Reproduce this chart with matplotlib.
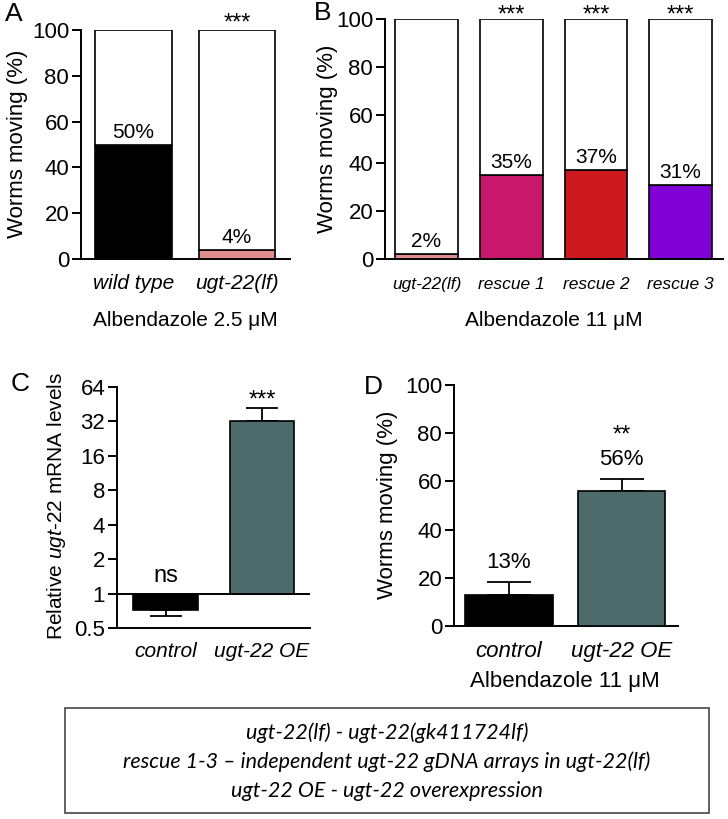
import matplotlib
matplotlib.use('Agg')
import matplotlib.pyplot as plt
import numpy as np

plt.rcParams['font.family'] = ['Liberation Sans', 'DejaVu Sans']
plt.rcParams['mathtext.fontset'] = 'custom'
plt.rcParams['mathtext.rm'] = 'Liberation Sans'
plt.rcParams['mathtext.it'] = 'Liberation Sans:italic'

# ---- data ----
a_labels = ['wild type', 'ugt-22(lf)']
a_values = [50, 4]
a_colors = ['#000000', '#e08c8c']
a_stars = ['', '***']

b_labels = ['ugt-22(lf)', 'rescue 1', 'rescue 2', 'rescue 3']
b_values = [2, 35, 37, 31]
b_colors = ['#e08c8c', '#c8186c', '#cc1a1e', '#8200d8']
b_stars = ['', '***', '***', '***']

c_labels = ['control', 'ugt-22 OE']
c_values = [0.72, 32]
c_err_low = [0.08, 0]
c_err_high = [0, 9.6]
c_marks = ['ns', '***']

d_labels = ['control', 'ugt-22 OE']
d_values = [13, 56]
d_err = [5.3, 5]
d_stars = ['', '**']

teal = '#4d6b6a'
note_lines = ['ugt-22(lf) - ugt-22(gk411724lf)',
              'rescue 1-3 \u2013 independent ugt-22 gDNA arrays in ugt-22(lf)',
              'ugt-22 OE - ugt-22 overexpression']

W, H = 728, 819
fig = plt.figure(figsize=(W / 100, H / 100), dpi=100)


def ax_px(l, t, r, b):
    return fig.add_axes([l / W, 1 - b / H, (r - l) / W, (b - t) / H])


def ptext(x, y, s, **kw):
    kw.setdefault('ha', 'center')
    kw.setdefault('va', 'center')
    return fig.text(x / W, 1 - y / H, s, **kw)


def style_axes(ax):
    for s in ['top', 'right']:
        ax.spines[s].set_visible(False)
    for s in ['left', 'bottom']:
        ax.spines[s].set_linewidth(1.4)
    ax.tick_params(axis='y', length=6.5, width=1.4, labelsize=16, pad=2)
    ax.tick_params(axis='x', length=0)


def pct_axes(ax, labels, values, colors, stars, lab_size, lab_pad, star_off):
    x = np.arange(len(values))
    vals = np.array(values)
    ax.bar(x, vals, width=0.74, color=colors, edgecolor='black', linewidth=1.2)
    ax.bar(x, 100 - vals, bottom=vals, width=0.74, color='white',
           edgecolor='black', linewidth=1.2)
    ax.set_ylim(0, 100)
    ax.set_yticks([0, 20, 40, 60, 80, 100])
    ax.set_xticks(x, labels, style='italic', fontsize=lab_size)
    ax.tick_params(axis='x', pad=lab_pad)
    for xi, v, st in zip(x, vals, stars):
        ax.annotate(f'{v}%', (xi, v), xytext=(0, 9), textcoords='offset points',
                    ha='center', va='center', fontsize=15)
        if st:
            ax.annotate(st, (xi, 100), xytext=(0, star_off), textcoords='offset points',
                        ha='center', va='baseline', fontsize=17, annotation_clip=False)
    ax.set_xlim(-0.5, len(values) - 0.5)


# ---- A ----
axA = ax_px(81, 30, 290, 259)
style_axes(axA)
pct_axes(axA, a_labels, a_values, a_colors, a_stars, 15, 11, 0)
axA.set_xlim(-0.507, 1.512)
ptext(18, 144, 'Worms moving (%)', rotation=90, fontsize=16)
ptext(185, 321, 'Albendazole 2.5 \u03bcM', fontsize=15)
ptext(14, 14, 'A', fontsize=19)

# ---- B ----
axB = ax_px(385, 19, 723, 259)
style_axes(axB)
pct_axes(axB, b_labels, b_values, b_colors, b_stars, 12.5, 13, -2)
axB.set_xlim(-0.49, 3.5)
ptext(327, 139, 'Worms moving (%)', rotation=90, fontsize=16)
ptext(554, 321, 'Albendazole 11 \u03bcM', fontsize=15)
ptext(323, 13, 'B', fontsize=19)

# ---- C ----
axC = ax_px(117, 387, 310, 628)
style_axes(axC)
axC.set_yscale('log', base=2)
axC.set_ylim(0.5, 64)
c_ticks = [0.5, 1, 2, 4, 8, 16, 32, 64]
axC.set_yticks(c_ticks, ['0.5', '1', '2', '4', '8', '16', '32', '64'])
axC.minorticks_off()
xc = np.arange(len(c_values))
axC.bar(xc, np.array(c_values) - 1, bottom=1, width=0.67,
        color=['black', teal], edgecolor='black', linewidth=1.2, zorder=3)
axC.errorbar(xc, c_values, yerr=[c_err_low, c_err_high], fmt='none',
             ecolor='black', elinewidth=1.3, capsize=11.5, capthick=1.3, zorder=2)
axC.axhline(1, color='black', linewidth=1.4, zorder=4)
axC.set_xlim(-0.503, 1.497)
axC.set_xticks(xc, c_labels, style='italic', fontsize=15)
axC.tick_params(axis='x', pad=10)
axC.annotate(c_marks[0], (0, 1), xytext=(0, 13), textcoords='offset points',
             ha='center', va='center', fontsize=17)
axC.annotate(c_marks[1], (1, c_values[1] + c_err_high[1]), xytext=(0, 1),
             textcoords='offset points', ha='center', va='baseline', fontsize=17)
ptext(56, 506, r'Relative $\mathit{ugt}$-22 mRNA levels', rotation=90, fontsize=15)
ptext(20, 384, 'C', fontsize=19)

# ---- D ----
axD = ax_px(454, 385, 678, 626)
style_axes(axD)
xd = np.arange(len(d_values))
axD.bar(xd, d_values, width=0.78, color=['black', teal], edgecolor='black',
        linewidth=1.2, zorder=3)
axD.errorbar(xd, d_values, yerr=[[0, 0], d_err], fmt='none', ecolor='black',
             elinewidth=1.3, capsize=16, capthick=1.3, zorder=2)
axD.set_ylim(0, 100)
axD.set_yticks([0, 20, 40, 60, 80, 100])
axD.set_xlim(-0.489, 1.502)
axD.set_xticks(xd, d_labels, style='italic', fontsize=16)
axD.tick_params(axis='x', pad=11)
for xi, v, e, st in zip(xd, d_values, d_err, d_stars):
    axD.annotate(f'{v}%', (xi, v + e), xytext=(0, 14), textcoords='offset points',
                 ha='center', va='center', fontsize=16)
    if st:
        axD.annotate(st, (xi, v + e), xytext=(0, 27), textcoords='offset points',
                     ha='center', va='baseline', fontsize=17)
ptext(388, 505, 'Worms moving (%)', rotation=90, fontsize=16)
ptext(565, 681, 'Albendazole 11 \u03bcM', fontsize=16)
ptext(373, 387, 'D', fontsize=19)

# ---- note box ----
box = plt.Rectangle((65 / W, 1 - 813 / H), (709 - 65) / W, (813 - 708) / H,
                    transform=fig.transFigure, fill=False, edgecolor='#555555',
                    linewidth=1.3)
fig.add_artist(box)
for yy, line in zip([733, 762, 791], note_lines):
    ptext(387, yy, line, fontsize=15.5, family='Lato', style='italic')

fig.savefig('out.png', dpi=100)
